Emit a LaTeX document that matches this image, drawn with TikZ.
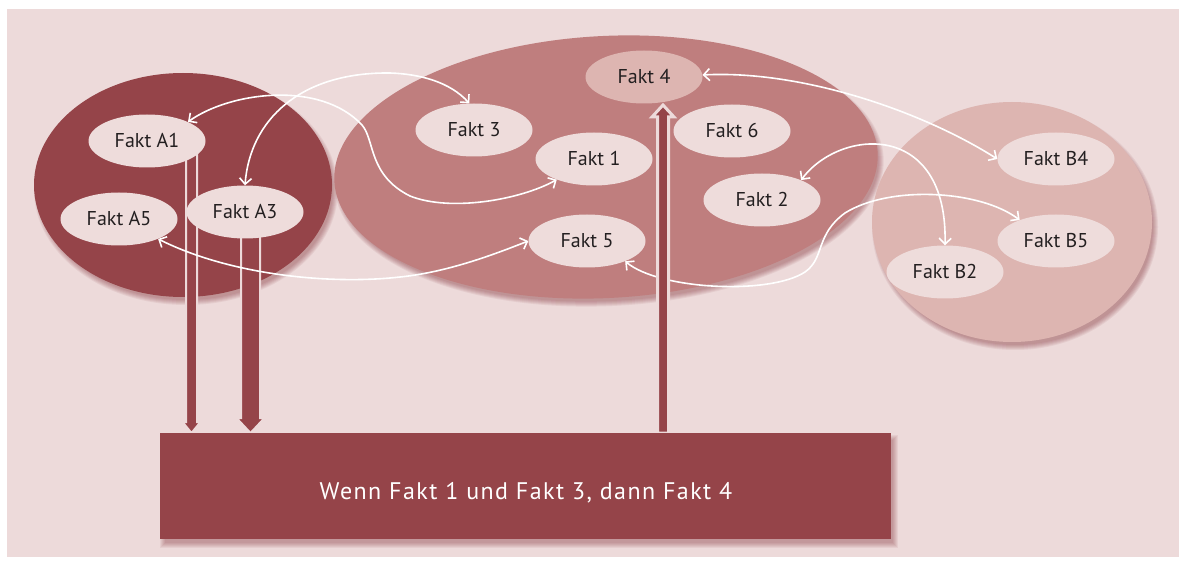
\documentclass[tikz,border=0pt]{standalone}
\usepackage{fontspec}
\setmainfont{PT Sans}
\usetikzlibrary{arrows.meta,shapes.geometric,calc}
\definecolor{bgpink}{RGB}{237,218,218}
\definecolor{darkred}{RGB}{149,68,73}
\definecolor{midrose}{RGB}{191,126,126}
\definecolor{lightrose}{RGB}{221,181,177}
\definecolor{factfill}{RGB}{238,220,219}
\definecolor{shadowc}{RGB}{125,40,50}
\definecolor{txt}{RGB}{35,31,32}
\newcommand\ellshadow[5]{%
  \foreach \k in {0,...,5}{%
    \fill[shadowc,opacity=0.08,rotate around={#5:(#1+3,#2+5)}] (#1+3,#2+5) ellipse [x radius={(#3+\k-2)*1pt}, y radius={(#4+\k-2)*1pt}];}}
\begin{document}
\begin{tikzpicture}[x=1pt,y=-1pt,
  fact/.style={ellipse, fill=factfill, minimum width=117pt, minimum height=53pt, inner sep=0pt, text=txt, font=\fontsize{20}{24}\selectfont},
  link/.style={draw=white, line width=1.6pt, {Straight Barb[length=6pt,width=12pt]}-{Straight Barb[length=6pt,width=12pt]}},
  bar/.style={fill=darkred, draw=bgpink, line width=2pt, line join=miter},
  bigell/.style={ellipse, inner sep=0pt},
]
\useasboundingbox (0,0) rectangle (1184,564);
\fill[white] (0,0) rectangle (1184,564);
\fill[bgpink] (7,9) rectangle (1179,557);

% big ellipses with soft shadows
\ellshadow{183}{185}{149}{112}{0}
\ellshadow{1012}{222}{140}{120}{0}
\ellshadow{606}{167}{272}{131}{3}
\node[bigell, fill=darkred, minimum width=298pt, minimum height=224pt] (GA) at (183,185) {};
\node[bigell, fill=lightrose, minimum width=280pt, minimum height=240pt] (GB) at (1012,222) {};
\node[bigell, fill=midrose, minimum width=544pt, minimum height=262pt, rotate=3] (GM) at (606,167) {};

% thick arrows from A1 and A3
\coordinate (a1b) at (191.5,152);
\coordinate (a3b) at (250.5,232);
\draw[bar] (a1b) ++(-5.5,0) -- ++(0,270) -- ++(-3.5,0) -- ++(9,11) -- ++(9,-11) -- ++(-3.5,0) -- ++(0,-270) -- cycle;
\draw[bar] (a3b) ++(-9.5,0) -- ++(0,186) -- ++(-4.5,0) -- ++(14,15) -- ++(14,-15) -- ++(-4.5,0) -- ++(0,-186) -- cycle;

% facts
\node[fact] (A1) at (147,141) {Fakt A1};
\node[fact] (A5) at (119,219) {Fakt A5};
\node[fact] (A3) at (245,212) {Fakt A3};
\node[fact] (F3) at (474,130) {Fakt 3};
\node[fact] (F1) at (594,159) {Fakt 1};
\node[fact, fill=lightrose] (F4) at (644,77) {Fakt 4};
\node[fact] (F6) at (732,131) {Fakt 6};
\node[fact] (F2) at (762,200) {Fakt 2};
\node[fact] (F5) at (587,241) {Fakt 5};
\node[fact] (B4) at (1056,159) {Fakt B4};
\node[fact] (B5) at (1056,241) {Fakt B5};
\node[fact] (B2) at (945,272) {Fakt B2};

% white connectors
\draw[link] (A1.25) .. controls (230,92) and (320,80) .. (362,125) .. controls (375,140) and (368,175) .. (410,196) .. controls (450,212) and (520,200) .. (F1.209);
\draw[link] (A3.90) .. controls (250,120) and (300,72) .. (390,73) .. controls (420,74) and (450,82) .. (F3.100);
\draw[link] (A5.-27) .. controls (230,275) and (330,285) .. (400,277) .. controls (450,272) and (500,252) .. (F5.180);
\draw[link] (F4.2) .. controls (800,70) and (920,110) .. (B4.180);
\draw[link] (F2.27) .. controls (840,128) and (948,120) .. (B2.90);
\draw[link] (F5.-28) .. controls (660,290) and (770,295) .. (805,272) .. controls (825,258) and (815,235) .. (845,213) .. controls (890,185) and (980,190) .. (B5.150);

% thick arrow up to Fakt 4
\coordinate (f4b) at (663,433);
\draw[bar, line width=3pt] (f4b) ++(-5.5,0) -- ++(0,-316) -- ++(-5.5,0) -- ++(11,-12) -- ++(11,12) -- ++(-5.5,0) -- ++(0,316) -- cycle;

% rule box
\foreach \k in {0,...,5}{\fill[shadowc,opacity=0.07] (165-\k,440-\k) rectangle (893+\k,543+\k);}
\node[rectangle, fill=darkred, minimum width=731pt, minimum height=106pt, inner sep=0pt] (rule) at (525.5,486) {};
\node[anchor=base, text=white, font=\fontsize{24}{28}\selectfont\addfontfeature{LetterSpace=6}] (ruletext) at (526,499) {Wenn Fakt 1 und Fakt 3, dann Fakt 4};
\end{tikzpicture}
\end{document}
